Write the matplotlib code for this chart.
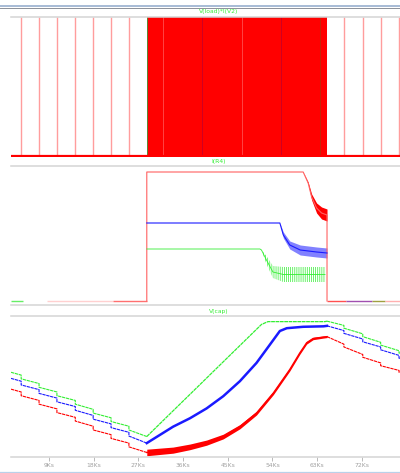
import matplotlib
matplotlib.use("Agg")
import matplotlib.pyplot as plt
from matplotlib.lines import Line2D
from matplotlib.patches import Rectangle

# time axis (Ks)
t_start, t_end = 1.35, 79.7
charge_on, charge_off = 28.7, 65.0
tick_ks = [9, 18, 27, 36, 45, 54, 63, 72]
tick_labels = ["9Ks", "18Ks", "27Ks", "36Ks", "45Ks", "54Ks", "63Ks", "72Ks"]

# V(load)*I(V2) - load pulses (W)
pulse_t = [3.4, 7.0, 10.6, 14.3, 17.9, 21.5, 25.1, 68.4, 72.2, 75.8, 79.5]
pulse_peak = 15.0
inner_t = [32.0, 39.8, 47.9, 55.7, 63.6]
inner_c = ["#ff7070", "#b0003a", "#ff7070", "#b0003a", "#a04010"]

# I(R4) (A)
ir_t = [t_start, charge_on, charge_on, 60.2, 61.2, 61.9, 62.9, 63.9, charge_off, charge_off, t_end]
ir = [0, 0, 1.29, 1.29, 1.18, 1.04, 0.93, 0.88, 0.86, 0, 0]
ir_rip = [0, 0, 0, 0, 0.01, 0.03, 0.05, 0.06, 0.06, 0, 0]
ib_t = [charge_on, 55.5, 56.2, 57.5, 59.6, 62.9, charge_off]
ib = [0.78, 0.78, 0.66, 0.56, 0.51, 0.49, 0.48]
ib_rip = [0, 0, 0.03, 0.04, 0.05, 0.05, 0.05]
ig_t = [charge_on, 51.5, 51.8, 52.8, 54.1, 56.2, 59.6, 64.6]
ig = [0.52, 0.52, 0.51, 0.41, 0.29, 0.265, 0.265, 0.265]
ig_rip = [0, 0, 0, 0.04, 0.06, 0.075, 0.075, 0.075]
zero_segs = [(1.35, 3.8, "#66ee66"), (8.6, 21.9, "#ffd0d0"), (21.9, 28.7, "#ff7070"),
             (65.0, 68.8, "#ff5050"), (68.8, 74.0, "#a050b0"), (74.0, 76.6, "#a0a040"),
             (76.6, 79.7, "#ffb0b0")]

# V(cap) (V)
dis1_t = [1.35, 3.4, 3.4, 7.0, 7.0, 10.6, 10.6, 14.3, 14.3, 17.9, 17.9, 21.5, 21.5, 25.1, 25.1, 28.7]
vg_dis1 = [12.80, 12.74, 12.66, 12.56, 12.48, 12.38, 12.30, 12.20, 12.12, 12.01, 11.93, 11.83, 11.75, 11.65, 11.57, 11.43]
vb_dis1 = [12.67, 12.61, 12.53, 12.43, 12.35, 12.25, 12.17, 12.07, 11.99, 11.88, 11.80, 11.70, 11.62, 11.52, 11.44, 11.29]
vr_dis1 = [12.44, 12.38, 12.30, 12.20, 12.12, 12.02, 11.94, 11.84, 11.76, 11.65, 11.57, 11.47, 11.39, 11.29, 11.21, 11.09]
g_chg_t = [28.7, 51.8, 53.1, 64.6, 65.0]
vg_chg = [11.43, 13.82, 13.88, 13.88, 13.89]
b_chg_t = [28.7, 34.0, 37.4, 40.75, 44.1, 47.45, 50.8, 53.5, 55.5, 56.9, 60.2, 64.3, 65.0]
vb_chg = [11.29, 11.64, 11.82, 12.03, 12.29, 12.61, 13.00, 13.39, 13.68, 13.74, 13.77, 13.78, 13.79]
r_chg_t = [28.7, 34.0, 37.4, 40.75, 44.1, 47.45, 50.8, 54.2, 57.5, 59.5, 60.9, 62.2, 64.2, 65.0]
vr_chg = [11.09, 11.14, 11.21, 11.30, 11.43, 11.64, 11.93, 12.36, 12.86, 13.21, 13.43, 13.52, 13.55, 13.56]
vr_rip = [0.07, 0.065, 0.06, 0.055, 0.05, 0.045, 0.04, 0.035, 0.032, 0.03, 0.028, 0.025, 0.022, 0.02]
dis2_t = [65.0, 68.4, 68.4, 72.2, 72.2, 75.8, 75.8, 79.5, 79.5, 79.7]
vg_dis2 = [13.89, 13.80, 13.74, 13.62, 13.56, 13.44, 13.38, 13.26, 13.21, 13.21]
vb_dis2 = [13.79, 13.69, 13.63, 13.51, 13.45, 13.34, 13.28, 13.16, 13.10, 13.10]
vr_dis2 = [13.56, 13.40, 13.34, 13.18, 13.12, 13.00, 12.94, 12.84, 12.80, 12.80]

GREEN, BLUE, RED = "#33ee33", "#1a1aff", "#ff0000"
SEP = "#d4d4d4"

plt.rcParams["hatch.linewidth"] = 0.5
fig = plt.figure(figsize=(4.0, 4.73), dpi=100)
W, H = 400, 473

def pane(top, bottom):
    ax = fig.add_axes([11 / W, 1 - bottom / H, 389 / W, (bottom - top) / H])
    ax.set_xlim(t_start, t_end)
    for s in ax.spines.values():
        s.set_visible(False)
    ax.spines["top"].set_visible(True)
    ax.spines["top"].set_color(SEP)
    ax.spines["top"].set_linewidth(1.1)
    ax.set_xticks([])
    ax.set_yticks([])
    return ax

def band(mid, half):
    return [a - b for a, b in zip(mid, half)], [a + b for a, b in zip(mid, half)]

ax1 = pane(16.5, 157)
ax2 = pane(166, 305)
ax3 = pane(316, 456.7)

# window chrome
fig.add_artist(Rectangle((0, 1 - 7.3 / H), 1, 2.3 / H, transform=fig.transFigure,
                         color="#a9bcd6", lw=0))
fig.add_artist(Line2D([0, 1], [1 - 7.8 / H] * 2, color="#8c9099", lw=0.7))
fig.add_artist(Line2D([0, 1], [1 - 471.7 / H] * 2, color="#b9d1ea", lw=0.9))

title_x = 219 / W
for txt, py in [("V(load)*I(V2)", 12), ("I(R4)", 161.5), ("V(cap)", 311)]:
    fig.text(title_x, 1 - py / H, txt, color=GREEN, fontsize=4.3, ha="center", va="center")

# panel 1: load power
ax1.set_ylim(-0.15, pulse_peak)
ax1.vlines(pulse_t, 0, pulse_peak, color="#ff9d9d", lw=1.0)
ax1.fill_between([charge_on, charge_off], 0, pulse_peak, color=RED, lw=0)
ax1.vlines(inner_t, 0, pulse_peak, colors=inner_c, lw=0.7, alpha=0.6)
ax1.vlines([charge_on], 0, pulse_peak, color="#40a040", lw=0.6)
ax1.hlines(0, t_start, t_end, color=RED, lw=1.6)

# panel 2: current
ax2.set_ylim(-0.04, 1.35)
for t0, t1, c in zero_segs:
    ax2.hlines(0, t0, t1, color=c, lw=1.0)
ax2.plot(ir_t[1:-1], ir[1:-1], color="#ff6060", lw=0.8)
ax2.fill_between(ir_t, *band(ir, ir_rip), color=RED, lw=0)
ax2.plot(ib_t, ib, color=BLUE, lw=0.8)
ax2.fill_between(ib_t, *band(ib, ib_rip), color=BLUE, alpha=0.55, lw=0)
ax2.plot(ig_t, ig, color=GREEN, lw=0.6)
ax2.fill_between(ig_t, *band(ig, ig_rip), facecolor="none", edgecolor=GREEN,
                 hatch="||||||||", lw=0)
ax2.spines["bottom"].set_visible(True)
ax2.spines["bottom"].set_color(SEP)
ax2.spines["bottom"].set_linewidth(1.1)

# panel 3: capacitor voltage
for tt, v, c in [(dis1_t, vg_dis1, GREEN), (dis1_t, vb_dis1, BLUE), (dis1_t, vr_dis1, RED),
                 (dis2_t, vg_dis2, GREEN), (dis2_t, vb_dis2, BLUE), (dis2_t, vr_dis2, RED)]:
    ax3.plot(tt, v, color=c, lw=0.8, ls=(0, (3, 0.6)))
ax3.plot(g_chg_t, vg_chg, color=GREEN, lw=0.9, ls=(0, (3, 0.5)))
ax3.plot(b_chg_t, vb_chg, color=BLUE, lw=1.8)
ax3.fill_between(r_chg_t, *band(vr_chg, vr_rip), color=RED, lw=0)
ax3.plot(r_chg_t, vr_chg, color=RED, lw=1.0)
ax3.set_ylim(11.0, 14.0)

ax3.spines["bottom"].set_visible(True)
ax3.spines["bottom"].set_color(SEP)
ax3.spines["bottom"].set_linewidth(1.1)
ax3.set_xticks(tick_ks)
ax3.set_xticklabels(tick_labels)
ax3.tick_params(axis="x", direction="out", length=3, width=0.6, color="#b0b0b0",
                labelsize=4.3, labelcolor="#a0a0a0", pad=1.5)

fig.savefig("out.png", dpi=100, facecolor="white")
